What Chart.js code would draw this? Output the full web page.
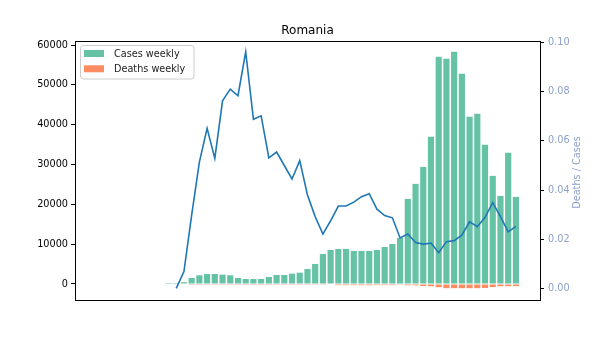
<!DOCTYPE html>
<html>
<head>
<meta charset="utf-8">
<script src="https://cdn.jsdelivr.net/npm/chart.js@4/dist/chart.umd.min.js"></script>
<style>
  html, body { margin: 0; padding: 0; background: #fff; }
  #wrap { width: 600px; height: 337px; }
</style>
</head>
<body>
<div id="wrap"><canvas id="chart" width="600" height="337"></canvas></div>
<script>
// weekly values
let cases = [250, 250, 450, 1500, 2180, 2510, 2510, 2340, 2180, 1500,
  1250, 1250, 1250, 1760, 2260, 2260, 2600, 2840, 3770, 5030,
  7540, 8540, 8800, 8800, 8290, 8290, 8290, 8540, 9300, 10050,
  11560, 21360, 25130, 29400, 36940, 57050, 56540, 58300, 52770, 41970,
  42720, 34930, 27140, 22110, 32920, 21860];
let deaths = [0, 0, 0, -30, -40, -45, -45, -45, -45, -40,
  -35, -35, -30, -35, -40, -40, -45, -45, -50, -55,
  -60, -120, -290, -300, -290, -310, -320, -280, -280, -290,
  -60, -320, -330, -520, -560, -800, -1050, -1050, -1050, -1050,
  -1050, -1000, -780, -560, -560, -540];
let ratio = [null, 0, 0.0068, 0.0298, 0.0514, 0.0651, 0.0529, 0.0763, 0.0811, 0.0784,
  0.0963, 0.0688, 0.0702, 0.0531, 0.0555, 0.0500, 0.0445, 0.0520, 0.0380, 0.0292,
  0.0221, 0.0275, 0.0335, 0.0335, 0.0351, 0.0373, 0.0385, 0.0322, 0.0296, 0.0287,
  0.0205, 0.0221, 0.0186, 0.0180, 0.0184, 0.0145, 0.0190, 0.0194, 0.0216, 0.0271,
  0.0251, 0.0289, 0.0349, 0.0292, 0.0230, 0.0252];

let seriesNames = ['Cases weekly', 'Deaths weekly'];
let ratioLabel = 'Deaths / Cases';
let titleText = 'Romania';

let casesTicks = [0, 10000, 20000, 30000, 40000, 50000, 60000];
let ratioTicks = [0, 0.02, 0.04, 0.06, 0.08, 0.10];

let font = 'DejaVu Sans';
let green = '#66c2a5';
let orange = '#fc8d62';
let blue = '#1f77b4';
let lilac = '#8da0cb';

// week number for every value
let weeks = cases.map((v, i) => i);
let toXY = arr => arr.map((v, i) => ({ x: weeks[i], y: v }));

// box around the axes, the legend and the right axis label (drawn by hand)
let extras = {
  id: 'extras',
  afterDraw(chart) {
    let ctx = chart.ctx;
    let a = chart.chartArea;
    ctx.save();

    // frame
    ctx.strokeStyle = '#000';
    ctx.lineWidth = 1;
    ctx.strokeRect(Math.round(a.left) + 0.5, Math.round(a.top) + 0.5,
      Math.round(a.right - a.left), Math.round(a.bottom - a.top));

    // legend
    ctx.beginPath();
    ctx.roundRect(80.5, 45.5, 113.5, 33.5, 3);
    ctx.fillStyle = 'rgba(255,255,255,0.8)';
    ctx.fill();
    ctx.strokeStyle = '#cccccc';
    ctx.stroke();
    let colors = [green, orange];
    ctx.font = '9.7px "' + font + '"';
    ctx.textBaseline = 'middle';
    ctx.textAlign = 'left';
    seriesNames.forEach((name, i) => {
      let y = 50 + i * 15.3;
      ctx.fillStyle = colors[i];
      ctx.fillRect(84, y, 20, 7);
      ctx.fillStyle = '#222';
      ctx.fillText(name, 114, y + 4);
    });

    // right axis label, reading upwards like matplotlib
    let r = chart.scales.y1;
    ctx.translate(r.right - 22.5, (a.top + a.bottom) / 2 + 2);
    ctx.rotate(-Math.PI / 2);
    ctx.textAlign = 'center';
    ctx.fillStyle = lilac;
    ctx.fillText(ratioLabel, 0, 0);
    ctx.restore();
  }
};

new Chart(document.getElementById('chart'), {
  type: 'bar',
  data: {
    datasets: [
      {
        type: 'line',
        label: ratioLabel,
        data: toXY(ratio),
        yAxisID: 'y1',
        borderColor: blue,
        borderWidth: 1.6,
        pointRadius: 0,
        tension: 0,
        order: 0
      },
      {
        label: seriesNames[0],
        data: toXY(cases),
        yAxisID: 'y',
        backgroundColor: green,
        barPercentage: 0.8,
        categoryPercentage: 1,
        grouped: false,
        order: 2
      },
      {
        label: seriesNames[1],
        data: toXY(deaths),
        yAxisID: 'y',
        backgroundColor: orange,
        barPercentage: 0.8,
        categoryPercentage: 1,
        grouped: false,
        order: 1
      }
    ]
  },
  options: {
    responsive: false,
    animation: false,
    devicePixelRatio: 1,
    layout: { padding: { left: 0, right: 0, top: 0, bottom: 37 } },
    plugins: {
      legend: { display: false },
      tooltip: { enabled: false },
      title: {
        display: true,
        text: titleText,
        fullSize: false,
        color: '#000',
        font: { family: font, size: 12, weight: 'normal' },
        padding: { top: 23.5, bottom: 3.1 }
      }
    },
    scales: {
      x: {
        type: 'linear',
        display: false,
        offset: false,
        min: -12.11,
        max: 48.12
      },
      y: {
        position: 'left',
        min: -4020,
        max: 61005,
        afterFit: s => { s.width = 75; },
        afterBuildTicks: s => { s.ticks = casesTicks.map(v => ({ value: v })); },
        grid: { drawOnChartArea: false, tickLength: 4, color: '#000' },
        border: { display: true, color: '#000' },
        ticks: {
          padding: 3,
          color: '#000',
          font: { family: font, size: 9.7 },
          callback: v => String(v)
        }
      },
      y1: {
        position: 'right',
        min: -0.00476,
        max: 0.10069,
        afterFit: s => { s.width = 60; },
        afterBuildTicks: s => { s.ticks = ratioTicks.map(v => ({ value: v })); },
        grid: { drawOnChartArea: false, tickLength: 4, color: '#000' },
        border: { display: true, color: '#000' },
        ticks: {
          padding: 4,
          color: lilac,
          font: { family: font, size: 9.7 },
          callback: v => v.toFixed(2)
        }
      }
    }
  },
  plugins: [extras]
});
</script>
</body>
</html>
